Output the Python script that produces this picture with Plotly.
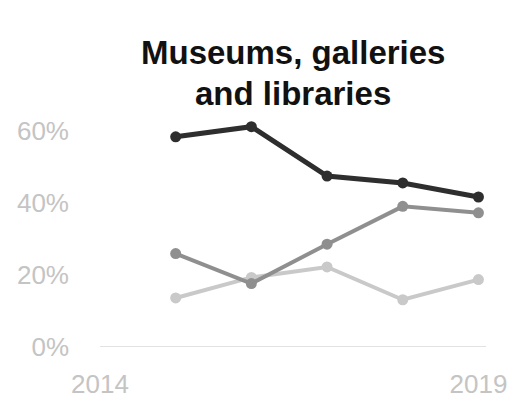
import plotly.graph_objects as go

years = [2015, 2016, 2017, 2018, 2019]
series_dark = [58.3, 61.1, 47.4, 45.5, 41.6]
series_mid = [25.9, 17.6, 28.5, 39.0, 37.2]
series_light = [13.6, 19.3, 22.2, 13.1, 18.7]

y_ticks = [0, 20, 40, 60]
y_tick_text = ["0%", "20%", "40%", "60%"]
x_ticks = [2014, 2019]
x_tick_text = ["2014", "2019"]
title_lines = ["Museums, galleries", "and libraries"]

W, H = 510, 404
M_L, M_R, M_T, M_B = 100, 24, 109, 57
fig = go.Figure()

for vals, color, width in [
    (series_light, "#c9c9c9", 4),
    (series_mid, "#8f8f8f", 4),
    (series_dark, "#2e2e2e", 5),
]:
    fig.add_trace(go.Scatter(
        x=years, y=vals, mode="lines+markers",
        line=dict(color=color, width=width),
        marker=dict(color=color, size=11),
        hoverinfo="skip", showlegend=False, cliponaxis=False,
    ))

# baseline at zero
fig.add_shape(type="line", xref="x", yref="y", x0=2014, x1=2019.1, y0=0, y1=0,
              line=dict(color="#e2e2e2", width=2), layer="below")

# two-line bold heading, centred over the plot area
for line, ypix in zip(title_lines, [53, 93]):
    fig.add_annotation(
        text="<b>%s</b>" % line, xref="paper", x=0.5, xanchor="center",
        yref="paper", y=(H - M_B - ypix) / (H - M_T - M_B), yanchor="middle",
        showarrow=False, font=dict(size=33, color="#111111"),
    )

fig.update_layout(
    width=W, height=H,
    margin=dict(l=M_L, r=M_R, t=M_T, b=M_B),
    paper_bgcolor="white", plot_bgcolor="white",
    font=dict(family="Liberation Sans, Arial, sans-serif"),
    xaxis=dict(range=[2014, 2019.1], tickvals=x_ticks, ticktext=x_tick_text,
               showgrid=False, zeroline=False, showline=False, ticks="",
               ticklabelstandoff=19, automargin=False,
               tickfont=dict(size=26, color="#c4c4c4")),
    yaxis=dict(range=[0, 66], tickvals=y_ticks, ticktext=y_tick_text,
               showgrid=False, zeroline=False, showline=False, ticks="",
               ticklabelstandoff=30, automargin=False,
               tickfont=dict(size=26, color="#c4c4c4")),
)

fig.write_html("out.html")
